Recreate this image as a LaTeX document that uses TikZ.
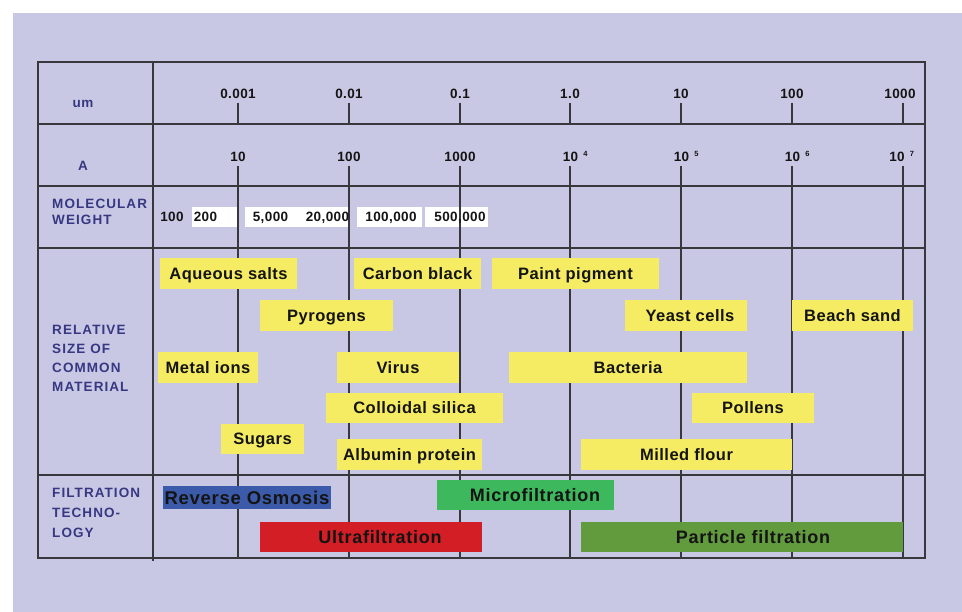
\documentclass[tikz,border=0pt]{standalone}
\usepackage{fontspec}
\setmainfont{Liberation Sans}
\newfontfamily\boxfont{Liberation Sans}[LetterSpace=3]
\newfontfamily\sidefont{Liberation Sans}[LetterSpace=8]
\newfontfamily\filtfont{Liberation Sans}[LetterSpace=4]
\definecolor{lav}{RGB}{201,200,228}
\definecolor{yel}{RGB}{245,236,100}
\definecolor{rob}{RGB}{60,90,170}
\definecolor{mfg}{RGB}{62,184,92}
\definecolor{ufr}{RGB}{210,30,36}
\definecolor{pfg}{RGB}{98,155,62}
\definecolor{lblc}{RGB}{55,55,130}
\definecolor{gridc}{RGB}{55,55,60}
\definecolor{txt}{RGB}{20,20,20}
\tikzset{
  gridline/.style={draw=gridc, line width=1.3pt},
  ybox/.style={fill=yel, minimum height=31pt, inner sep=0pt, text=txt,
    text height=11.8pt, text depth=0pt,
    font=\boxfont\bfseries\fontsize{16.5}{18}\selectfont},
  filtbox/.style={minimum height=30pt, inner sep=0pt, text=txt,
    text height=12.9pt, text depth=0pt,
    font=\filtfont\bfseries\fontsize{18}{20}\selectfont},
  num/.style={inner sep=0pt, text=txt, text height=9.7pt, text depth=0pt,
    font=\boxfont\bfseries\fontsize{13.5}{16}\selectfont},
  supnum/.style={inner sep=0pt, text=txt, text height=5.4pt, text depth=0pt,
    font=\boxfont\bfseries\fontsize{7.5}{9}\selectfont},
  rowlbl/.style={inner sep=0pt, text=lblc, font=\boxfont\bfseries\fontsize{13.5}{16}\selectfont},
  side/.style={inner sep=0pt, align=left, anchor=west, text=lblc},
}
\begin{document}
\begin{tikzpicture}[x=1pt,y=-1pt]
\useasboundingbox (0,0) rectangle (962,612);
\fill[white] (0,0) rectangle (962,612);
\fill[lav] (13,13) rectangle (962,612);
% white boxes of the molecular weight row
\fill[white] (192,207) rectangle (237,227);
\fill[white] (245,207) rectangle (350,227);
\fill[white] (357,207) rectangle (422,227);
\fill[white] (425,207) rectangle (488,227);
% table
\draw[gridline] (38,62) rectangle (925,558);
\foreach \yy in {124,186,248,475} \draw[gridline] (38,\yy) -- (925,\yy);
\draw[gridline] (153,62) -- (153,561);
\foreach \xx in {238,349,460,570,681,792,903} {
  \draw[gridline] (\xx,103) -- (\xx,124);
  \draw[gridline] (\xx,166) -- (\xx,558);
}
% row labels
\node[rowlbl] (um) at (83,104) {um};
\node[rowlbl] (ang) at (83,166) {A};
\node[side, font=\sidefont\bfseries\fontsize{13.5}{16}\selectfont] (mw) at (52,212) {MOLECULAR\\WEIGHT};
\node[side, font=\sidefont\bfseries\fontsize{13.5}{19}\selectfont] (rs) at (52,358) {RELATIVE\\SIZE OF\\COMMON\\MATERIAL};
\node[side, font=\sidefont\bfseries\fontsize{13.5}{20}\selectfont] (ft) at (52,513) {FILTRATION\\TECHNO-\\LOGY};
% um scale
\node[num] (u1) at (238,94) {0.001};
\node[num] (u2) at (349,94) {0.01};
\node[num] (u3) at (460,94) {0.1};
\node[num] (u4) at (570,94) {1.0};
\node[num] (u5) at (681,94) {10};
\node[num] (u6) at (792,94) {100};
\node[num] (u7) at (900,94) {1000};
% angstrom scale
\node[num] (a1) at (238,156.5) {10};
\node[num] (a2) at (349,156.5) {100};
\node[num] (a3) at (460,156.5) {1000};
\node[num] (a4) at (570.5,156.5) {10};
\node[num] (a5) at (681.5,156.5) {10};
\node[num] (a6) at (792.5,156.5) {10};
\node[num] (a7) at (897,156.5) {10};
\node[supnum] (s4) at (585.5,154) {4};
\node[supnum] (s5) at (696.5,154) {5};
\node[supnum] (s6) at (807.5,154) {6};
\node[supnum] (s7) at (912,154) {7};
% molecular weights
\node[num] (m1) at (172,217) {100};
\node[num] (m2) at (205.5,217) {200};
\node[num] (m3) at (270.5,217) {5,000};
\node[num] (m4) at (327.5,217) {20,000};
\node[num] (m5) at (391,217) {100,000};
\node[num] (m6) at (460,217) {500,000};
% materials
\node[ybox, minimum width=137pt] (aq) at (228.5,273.5) {Aqueous salts};
\node[ybox, minimum width=127pt] (cb) at (417.5,273.5) {Carbon black};
\node[ybox, minimum width=167pt] (pp) at (575.5,273.5) {Paint pigment};
\node[ybox, minimum width=133pt] (py) at (326.5,315.5) {Pyrogens};
\node[ybox, minimum width=122pt] (ye) at (686,315.5) {\hspace*{8pt}Yeast cells};
\node[ybox, minimum width=121pt] (bs) at (852.5,315.5) {Beach sand};
\node[ybox, minimum width=100pt] (mi) at (208,367.5) {Metal ions};
\node[ybox, minimum width=122pt] (vi) at (398,367.5) {Virus};
\node[ybox, minimum width=238pt] (ba) at (628,367.5) {Bacteria};
\node[ybox, minimum width=177pt, minimum height=30pt] (cs) at (414.5,408) {Colloidal silica};
\node[ybox, minimum width=122pt, minimum height=30pt] (po) at (753,408) {Pollens};
\node[ybox, minimum width=83pt, minimum height=30pt] (su) at (262.5,439) {Sugars};
\node[ybox, minimum width=145pt] (al) at (409.5,454.5) {Albumin protein};
\node[ybox, minimum width=211pt] (mf) at (686.5,454.5) {Milled flour};
% filtration technologies
\node[filtbox, fill=rob, minimum width=168pt, minimum height=23pt, text height=13.2pt, font=\filtfont\bfseries\fontsize{18.5}{20}\selectfont] (ro) at (247,497.5) {Reverse Osmosis};
\node[filtbox, fill=mfg, minimum width=177pt] (mc) at (525.5,495) {\hspace*{19pt}Microfiltration};
\node[filtbox, fill=ufr, minimum width=222pt] (uf) at (371,537) {\hspace*{18pt}Ultrafiltration};
\node[filtbox, fill=pfg, minimum width=322pt] (pf) at (742,537) {\hspace*{22pt}Particle filtration};
\end{tikzpicture}
\end{document}
